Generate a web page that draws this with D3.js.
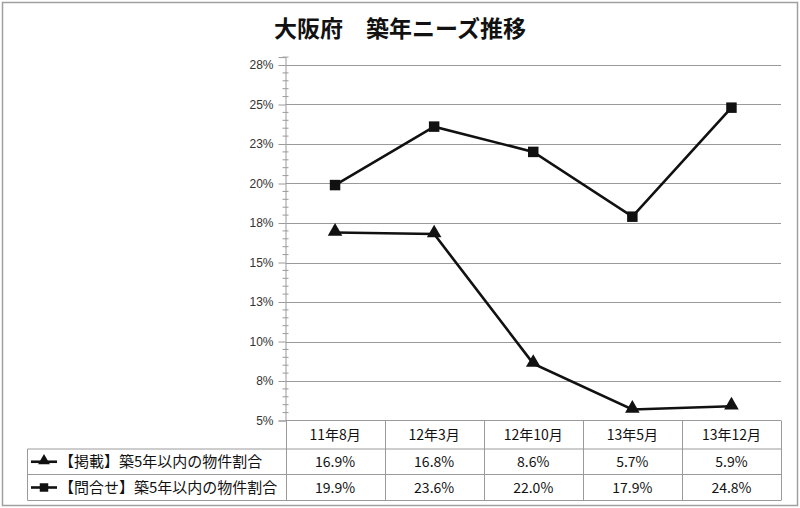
<!DOCTYPE html>
<html>
<head>
<meta charset="utf-8">
<script src="https://cdn.jsdelivr.net/npm/d3@7"></script>
<style>
  body { margin: 0; background: #fff; }
  svg { display: block; font-family: "Noto Sans CJK JP", sans-serif; }
</style>
</head>
<body>
<div id="chart"></div>
<script>
// 大阪府 築年ニーズ推移 - data
const categories = ["11年8月", "12年3月", "12年10月", "13年5月", "13年12月"];
const listedShare = [16.9, 16.8, 8.6, 5.7, 5.9];     // 【掲載】築5年以内の物件割合
const inquiryShare = [19.9, 23.6, 22.0, 17.9, 24.8];  // 【問合せ】築5年以内の物件割合
const seriesNames = ["【掲載】築5年以内の物件割合", "【問合せ】築5年以内の物件割合"];
const yTicks = [5, 7.5, 10, 12.5, 15, 17.5, 20, 22.5, 25, 27.5];
const yMin = 5, yMax = 28;

const W = 800, H = 508;
const plot = { left: 285.5, right: 781, bottom: 420.5 };
const rowH = [28.5, 25.5, 26];
const gridColor = "#9a9a9a";

const svg = d3.select("#chart").append("svg")
  .attr("width", W).attr("height", H);

// outer border
svg.append("rect")
  .attr("x", 2.5).attr("y", 2.5).attr("width", W - 5).attr("height", H - 5)
  .attr("fill", "#fff").attr("stroke", "#a0a0a0").attr("stroke-width", 1.5);

// title
svg.append("text")
  .attr("x", 400).attr("y", 37)
  .attr("text-anchor", "middle")
  .style("font-size", "23px").style("font-weight", "bold").style("fill", "#111")
  .text("大阪府　築年ニーズ推移");

// scales
const x = d3.scaleBand().domain(categories).range([plot.left, plot.right]);
const y = d3.scaleLinear().domain([yMin, yMax]).range([plot.bottom, plot.bottom - 23 * 15.8]);

// gridlines
svg.append("g").selectAll("line")
  .data(yTicks.slice(1))
  .join("line")
  .attr("x1", plot.left).attr("x2", plot.right)
  .attr("y1", d => Math.round(y(d)) + 0.5).attr("y2", d => Math.round(y(d)) + 0.5)
  .attr("stroke", gridColor).attr("stroke-width", 1);

// y axis with minor ticks
const minorTicks = d3.range(yMin, yMax + 0.01, 0.5).filter(v => !yTicks.includes(v));
const yAxisMajor = d3.axisLeft(y).tickValues(yTicks).tickSize(7).tickPadding(5)
  .tickFormat(d => Math.round(d) + "%");
const gy = svg.append("g").attr("transform", `translate(${plot.left},0)`).call(yAxisMajor);
gy.select(".domain").attr("stroke", gridColor);
gy.selectAll(".tick line").attr("stroke", gridColor);
gy.selectAll(".tick text")
  .style("font-family", "'Liberation Sans', Arial, sans-serif")
  .style("font-size", "12px").style("fill", "#333");
svg.append("g").selectAll("line")
  .data(minorTicks)
  .join("line")
  .attr("x1", plot.left - 3).attr("x2", plot.left + 3)
  .attr("y1", d => y(d)).attr("y2", d => y(d))
  .attr("stroke", gridColor);

// data table lines
const tableTop = plot.bottom;
const row1 = tableTop + rowH[0], row2 = row1 + rowH[1], row3 = row2 + rowH[2];
const legendLeft = 27.5;
const tbl = svg.append("g").attr("stroke", gridColor).attr("stroke-width", 1);
tbl.append("line").attr("x1", plot.left).attr("x2", plot.right).attr("y1", tableTop).attr("y2", tableTop);
[row1, row2, row3].forEach(r => {
  tbl.append("line").attr("x1", legendLeft).attr("x2", plot.right).attr("y1", r).attr("y2", r);
});
tbl.append("line").attr("x1", legendLeft).attr("x2", legendLeft).attr("y1", row1).attr("y2", row3);
tbl.selectAll(".vcol")
  .data(categories.map(c => x(c)).concat([plot.right]))
  .join("line")
  .attr("x1", d => Math.round(d) + 0.5).attr("x2", d => Math.round(d) + 0.5)
  .attr("y1", tableTop).attr("y2", row3);

// header and values
const cellText = svg.append("g")
  .attr("text-anchor", "middle")
  .style("font-size", "14px").style("fill", "#111");
cellText.selectAll(".hdr").data(categories).join("text")
  .attr("x", d => x(d) + x.bandwidth() / 2).attr("y", tableTop + rowH[0] / 2 + 5)
  .text(d => d);
[listedShare, inquiryShare].forEach((vals, i) => {
  const top = i === 0 ? row1 : row2;
  const h = rowH[i + 1];
  cellText.append("g").selectAll("text").data(vals).join("text")
    .attr("x", (d, j) => x(categories[j]) + x.bandwidth() / 2)
    .attr("y", top + h / 2 + 5)
    .text(d => d.toFixed(1) + "%");
});

// markers
const triangle = d3.symbol().type(d3.symbolTriangle).size(92);
const square = d3.symbol().type(d3.symbolSquare).size(110);
const line = d3.line()
  .x((d, i) => x(categories[i]) + x.bandwidth() / 2)
  .y(d => y(d));

const series = [
  { vals: listedShare, sym: triangle, dy: -1 },
  { vals: inquiryShare, sym: square, dy: 0 }
];

series.forEach(s => {
  svg.append("path")
    .datum(s.vals)
    .attr("d", line)
    .attr("fill", "none").attr("stroke", "#111").attr("stroke-width", 2.6);
  svg.append("g").selectAll("path").data(s.vals).join("path")
    .attr("transform", (d, i) => `translate(${x(categories[i]) + x.bandwidth() / 2},${y(d) + s.dy})`)
    .attr("d", s.sym)
    .attr("fill", "#111");
});

// legend keys in table rows
const legendTriangle = d3.symbol().type(d3.symbolTriangle).size(60);
const legendSquare = d3.symbol().type(d3.symbolSquare).size(72);
series.forEach((s, i) => {
  const top = i === 0 ? row1 : row2;
  const cy = top + rowH[i + 1] / 2;
  svg.append("line")
    .attr("x1", 31).attr("x2", 57).attr("y1", cy).attr("y2", cy)
    .attr("stroke", "#111").attr("stroke-width", 2.6);
  svg.append("path")
    .attr("transform", `translate(44,${cy + s.dy})`)
    .attr("d", i === 0 ? legendTriangle : legendSquare)
    .attr("fill", "#111");
  svg.append("text")
    .attr("x", 59).attr("y", cy + 5.5)
    .style("font-size", "15px").style("fill", "#111")
    .text(seriesNames[i]);
});
</script>
</body>
</html>
